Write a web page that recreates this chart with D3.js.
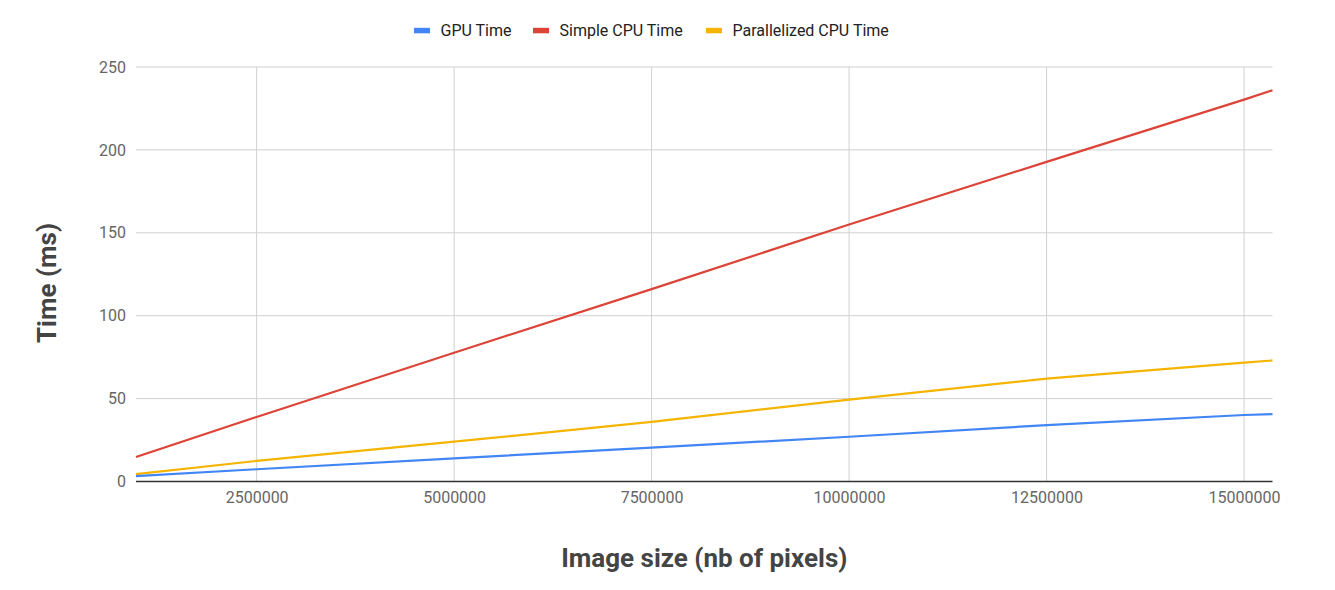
<!DOCTYPE html>
<html>
<head>
<meta charset="utf-8">
<script src="https://cdn.jsdelivr.net/npm/d3@7"></script>
<style>
  html, body { margin: 0; padding: 0; background: #fff; }
  svg { display: block; font-family: Roboto, "Noto Sans", sans-serif; }
</style>
</head>
<body>
<svg id="chart" width="1335" height="590"></svg>
<script>
const imageSizes = [972800, 2500000, 5000000, 7500000, 10000000, 12500000, 15000000, 15360000];
const gpuTimes = [3.3, 7.4, 14, 20.4, 27, 34, 40.1, 40.6];
const simpleCpuTimes = [14.8, 38.9, 77.7, 116, 155, 192.8, 230.3, 236];
const parallelCpuTimes = [4.5, 12.4, 24, 36, 49.4, 62, 71.7, 73];
const seriesNames = ["GPU Time", "Simple CPU Time", "Parallelized CPU Time"];
const seriesColors = ["#4285F4", "#DB4437", "#F4B400"];
const xTicks = [2500000, 5000000, 7500000, 10000000, 12500000, 15000000];
const yTicks = [0, 50, 100, 150, 200, 250];

(function () {
const svg = d3.select("#chart");
const pLeft = 136, pRight = 1272.5, pTop = 67, pBottom = 481.5;

const x = d3.scaleLinear().domain([d3.min(imageSizes), d3.max(imageSizes)]).range([pLeft, pRight]);
const y = d3.scaleLinear().domain([0, 250]).range([pBottom, pTop]);

// horizontal gridlines
svg.append("g").selectAll("line").data(yTicks.filter(d => d > 0)).join("line")
  .attr("x1", pLeft).attr("x2", pRight)
  .attr("y1", d => y(d)).attr("y2", d => y(d))
  .attr("stroke", "#d0d0d0").attr("stroke-width", 1);
// vertical gridlines
svg.append("g").selectAll("line").data(xTicks).join("line")
  .attr("x1", d => x(d)).attr("x2", d => x(d))
  .attr("y1", pTop).attr("y2", pBottom)
  .attr("stroke", "#d0d0d0").attr("stroke-width", 1);

// y axis labels
const yAxis = d3.axisLeft(y).tickValues(yTicks).tickSize(0).tickPadding(10);
const gy = svg.append("g").attr("transform", `translate(${pLeft},0)`).call(yAxis);
gy.select(".domain").remove();
gy.selectAll("text").attr("fill", "#666").style("font-size", "16px").style("font-family", "Roboto");

// x axis labels
const xAxis = d3.axisBottom(x).tickValues(xTicks).tickSize(0).tickPadding(10.4).tickFormat(d3.format("d"));
const gx = svg.append("g").attr("transform", `translate(0,${pBottom})`).call(xAxis);
gx.select(".domain").remove();
gx.selectAll("text").attr("fill", "#666").style("font-size", "16px").style("font-family", "Roboto");

// baseline
svg.append("line").attr("x1", pLeft).attr("x2", pRight).attr("y1", y(0)).attr("y2", y(0))
  .attr("stroke", "#333").attr("stroke-width", 1.5);

// lines
const allSeries = [gpuTimes, simpleCpuTimes, parallelCpuTimes];
const line = d3.line().x((d, i) => x(imageSizes[i])).y(d => y(d));
[parallelCpuTimes, gpuTimes, simpleCpuTimes].forEach(s => {
  const idx = allSeries.indexOf(s);
  svg.append("path").datum(s).attr("d", line)
    .attr("fill", "none").attr("stroke", seriesColors[idx]).attr("stroke-width", 2.2)
    .attr("stroke-linejoin", "round");
});

// legend
const legendX = [414, 533, 706];
const lg = svg.append("g");
seriesNames.forEach((n, i) => {
  lg.append("rect").attr("x", legendX[i]).attr("y", 27.8).attr("width", 16).attr("height", 5.5)
    .attr("fill", seriesColors[i]);
  lg.append("text").attr("x", legendX[i] + 26.5).attr("y", 35.7).text(n)
    .attr("fill", "#222").style("font-size", "16px").style("font-family", "Roboto");
});

// axis titles
svg.append("text").attr("x", (pLeft + pRight) / 2).attr("y", 566.5).attr("text-anchor", "middle")
  .attr("fill", "#444").style("font-size", "26px").style("font-weight", "bold").style("font-family", "Roboto")
  .text("Image size (nb of pixels)");
svg.append("text").attr("transform", `translate(56,283) rotate(-90)`).attr("text-anchor", "middle")
  .attr("fill", "#444").style("font-size", "26px").style("font-weight", "bold").style("font-family", "Roboto")
  .text("Time (ms)");
})();
</script>
</body>
</html>
